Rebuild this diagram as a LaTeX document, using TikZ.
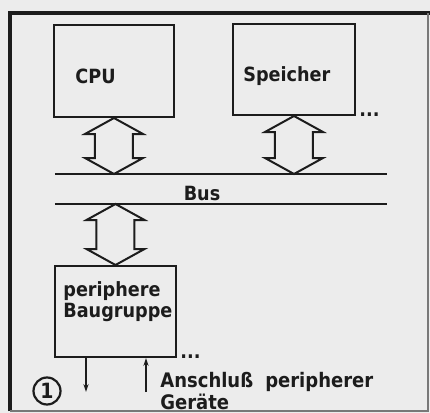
\documentclass[tikz,border=0pt]{standalone}
\usepackage{fontspec}
\setmainfont{DejaVu Sans Condensed}
\usetikzlibrary{arrows.meta,calc,positioning}
\definecolor{paper}{RGB}{236,236,236}
\definecolor{ink}{RGB}{28,28,28}
\definecolor{edge}{RGB}{120,120,120}

\begin{document}
\begin{tikzpicture}[x=0.5pt,y=-0.5pt,
  box/.style={draw=ink,line width=1pt,inner sep=0pt},
  txt/.style={text=ink,inner sep=0pt,font=\fontsize{9.8}{10.5}\selectfont\bfseries},
  note/.style={text=ink,inner sep=0pt,font=\fontsize{10}{9.5}\selectfont\bfseries},
  bigarr/.style={draw=ink,line width=1pt,fill=paper,line join=miter},
  wire/.style={draw=ink,line width=0.8pt},
  pin/.style={draw=ink,line width=0.8pt,-{Stealth[length=4pt,width=2.6pt]}},
  numring/.style={circle,draw=ink,line width=1.1pt,inner sep=0pt,minimum size=13.5pt,text=ink,font=\fontsize{10.5}{10.5}\selectfont\bfseries},
]
  \fill[paper] (0,0) rectangle (430,413);
  \useasboundingbox (0,0) rectangle (430,413);
  % frame
  \draw[ink,line width=2pt] (10,411) -- (10,13) -- (430,13);
  \draw[edge,line width=0.7pt] (428,13) -- (428,411) -- (10,411);

  \node[box,minimum width=60pt,minimum height=46pt] (cpu) at (114,71) {};
  \node[box,minimum width=61pt,minimum height=45.5pt] (mem) at (294,69.5) {};
  \node[box,minimum width=60.5pt,minimum height=45.5pt] (periph) at (115.5,311.5) {};
  \node[txt,anchor=base west] (cpulbl) at (75,83) {CPU};
  \node[txt,anchor=base west] (memlbl) at (243,81) {Speicher};
  \node[txt,align=left,anchor=north west] (periphlbl) at (63,281) {periphere\\Baugruppe};
  \node[txt,anchor=base west] (memdots) at ($(mem.south east)+(3,0)$) {...};
  \node[txt,anchor=base west] (perdots) at ($(periph.south east)+(3,0)$) {...};

  % bus
  \coordinate (bustl) at (55,174);
  \coordinate (bustr) at (387,174);
  \coordinate (busbl) at (55,204);
  \coordinate (busbr) at (387,204);
  \draw[wire] (bustl) -- (bustr);
  \draw[wire] (busbl) -- (busbr);
  \node[txt,anchor=base] (buslbl) at (202,200) {Bus};

  % hollow double arrows
  \coordinate (cputip) at (cpu.south |- bustl);
  \coordinate (memtip) at (mem.south |- bustl);
  \coordinate (pertip) at (periph.north |- busbl);
  \foreach \t/\u in {cpu.south/cputip,mem.south/memtip,pertip/periph.north}
    \draw[bigarr] (\t) -- ($(\t)+(-29,16)$) -- ($(\t)+(-19,16)$) -- ($(\u)+(-19,-16)$)
      -- ($(\u)+(-29,-16)$) -- (\u) -- ($(\u)+(29,-16)$) -- ($(\u)+(19,-16)$)
      -- ($(\t)+(19,16)$) -- ($(\t)+(29,16)$) -- cycle;

  % peripheral lines
  \coordinate (outend) at (86,392);
  \coordinate (inend) at (146,392);
  \draw[pin] (periph.south -| outend) -- (outend);
  \draw[pin] (inend) -- (periph.south -| inend);
  \node[note,align=left,anchor=north west] (conn) at (160,372) {Anschluß\hspace{0.6em}peripherer\\Geräte};
  \node[numring] (fignum) at (47,391) {1};
\end{tikzpicture}
\end{document}
